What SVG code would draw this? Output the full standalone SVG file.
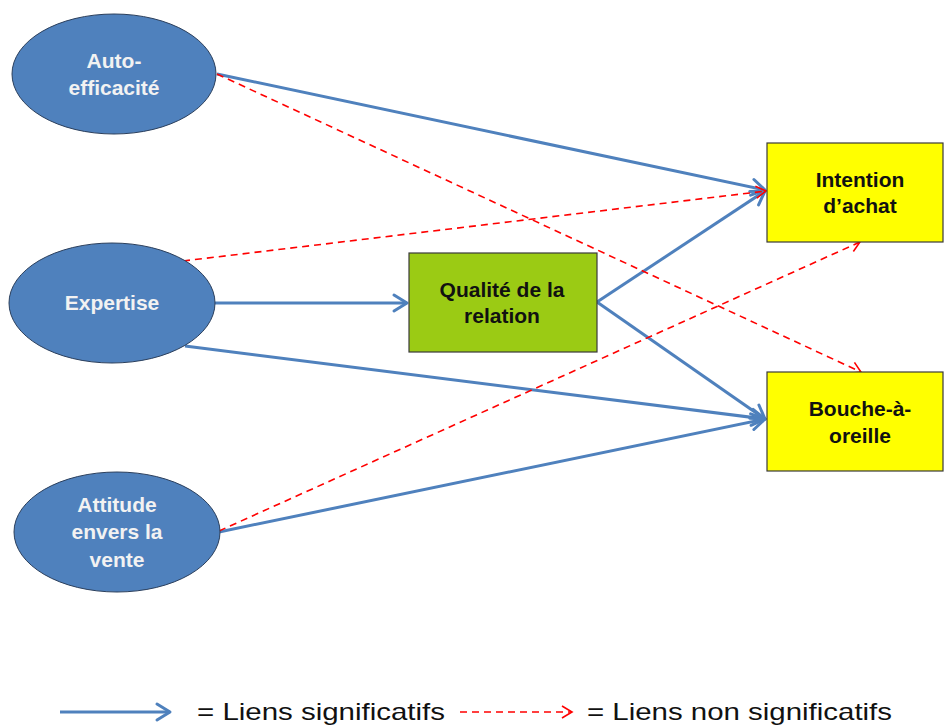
<svg xmlns="http://www.w3.org/2000/svg" width="944" height="727" viewBox="0 0 944 727">
<style>
.ell{fill:#4f81bd;stroke:#2b3f5c;stroke-width:1}
.box{stroke:#3a3a3a;stroke-width:1.2}
.wt{font-family:"Liberation Sans",Arial,sans-serif;font-weight:bold;font-size:21px;fill:#f2f2f2;text-anchor:middle}
.bt{font-family:"Liberation Sans",Arial,sans-serif;font-weight:bold;font-size:21px;fill:#111;text-anchor:middle}
.sig{stroke:#4f81bd;stroke-width:3;fill:none;marker-end:url(#ab)}
.ns{stroke:#ff0000;stroke-width:1.6;fill:none;stroke-dasharray:7,5;marker-end:url(#ar)}
.lg{font-family:"Liberation Sans",Arial,sans-serif;font-size:24px;fill:#111}
</style>
<defs>
<marker id="ab" markerUnits="userSpaceOnUse" viewBox="-16 -10 20 20" refX="0" refY="0" markerWidth="20" markerHeight="20" orient="auto" overflow="visible">
<path d="M-13,-8 L0,0 L-13,8" fill="none" stroke="#4f81bd" stroke-width="3" stroke-linecap="round" stroke-linejoin="round"/>
</marker>
<marker id="ar" markerUnits="userSpaceOnUse" viewBox="-16 -10 20 20" refX="0" refY="0" markerWidth="20" markerHeight="20" orient="auto" overflow="visible">
<path d="M-10,-6 L0,0 L-10,6" fill="none" stroke="#ff0000" stroke-width="1.6"/>
</marker>
</defs>
<rect width="944" height="727" fill="#ffffff"/>
<g id="connectors">
<line class="sig" x1="217" y1="74" x2="765" y2="190"/>
<line class="sig" x1="215" y1="303" x2="407" y2="303"/>
<line class="sig" x1="185" y1="346" x2="765" y2="419"/>
<line class="sig" x1="219" y1="532" x2="765" y2="419"/>
<line class="sig" x1="597" y1="302" x2="765" y2="191"/>
<line class="sig" x1="597" y1="302" x2="765" y2="419"/>
<line class="ns" x1="217" y1="74" x2="861" y2="372"/>
<line class="ns" x1="183" y1="261" x2="766" y2="191"/>
<line class="ns" x1="219" y1="531" x2="860" y2="242"/>
</g>
<g id="auto-efficacite">
<ellipse class="ell" cx="114" cy="74" rx="102" ry="60"/>
<text class="wt" x="114" y="68">Auto-</text>
<text class="wt" x="114" y="95">efficacité</text>
</g>
<g id="expertise">
<ellipse class="ell" cx="112" cy="303" rx="103" ry="60"/>
<text class="wt" x="112" y="310">Expertise</text>
</g>
<g id="attitude">
<ellipse class="ell" cx="117" cy="532" rx="103" ry="60"/>
<text class="wt" x="117" y="512">Attitude</text>
<text class="wt" x="117" y="539">envers la</text>
<text class="wt" x="117" y="567">vente</text>
</g>
<g id="qualite">
<rect class="box" x="409" y="253" width="188" height="99" fill="#9bcb14"/>
<text class="bt" x="502" y="297">Qualité de la</text>
<text class="bt" x="502" y="323">relation</text>
</g>
<g id="intention">
<rect class="box" x="767" y="143" width="176" height="99" fill="#ffff00"/>
<text class="bt" x="860" y="187">Intention</text>
<text class="bt" x="860" y="213">d’achat</text>
</g>
<g id="bouche">
<rect class="box" x="767" y="372" width="176" height="99" fill="#ffff00"/>
<text class="bt" x="860" y="416">Bouche-à-</text>
<text class="bt" x="860" y="443">oreille</text>
</g>
<g id="legend">
<line class="sig" x1="60" y1="712" x2="170" y2="712"/>
<text class="lg" x="197" y="720" textLength="248" lengthAdjust="spacingAndGlyphs">= Liens significatifs</text>
<line class="ns" x1="460" y1="712" x2="572" y2="712"/>
<text class="lg" x="587" y="720" textLength="305" lengthAdjust="spacingAndGlyphs">= Liens non significatifs</text>
</g>
</svg>
